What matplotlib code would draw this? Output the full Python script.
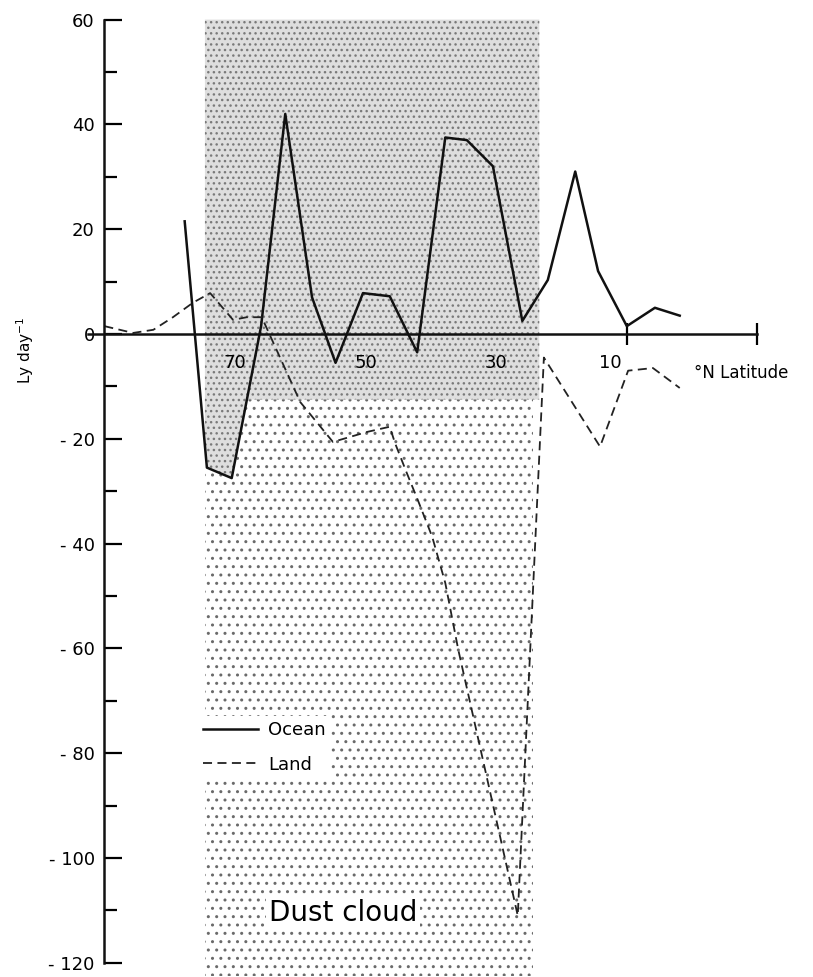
import numpy as np
import matplotlib
matplotlib.use("Agg")
import matplotlib.pyplot as plt

plt.rcParams['font.family'] = ['DejaVu Sans']

# ocean (solid) net radiation, Ly day^-1 vs deg N latitude
ocean_lat = [77.7, 74.3, 70.5, 66.0, 62.3, 58.2, 54.6, 50.4, 46.3, 42.1,
             37.8, 34.5, 30.5, 26.0, 22.1, 17.9, 14.4, 10.0, 5.7, 1.9]
ocean_val = [21.5, -25.5, -27.5, 1.5, 42.0, 7.0, -5.5, 7.8, 7.2, -3.5,
             37.5, 37.0, 32.0, 2.5, 10.3, 31.0, 12.0, 1.5, 5.0, 3.5]

# land (dashed)
land_lat = [90.0, 85.6, 82.5, 79.5, 76.4, 73.8, 70.3, 68.2, 65.9, 60.0,
            55.0, 49.8, 46.3, 45.5, 43.7, 42.0, 39.8, 37.8, 35.8, 26.7,
            22.7, 14.1, 9.8, 6.0, 1.9]
land_val = [1.5, 0.2, 0.8, 3.2, 6.0, 7.8, 2.7, 3.2, 3.2, -13.0,
            -20.6, -18.7, -17.7, -20.8, -26.5, -31.7, -38.7, -47.5, -60.3, -111.0,
            -4.5, -21.5, -7.0, -6.5, -10.3]

yticks = [60, 40, 20, 0, -20, -40, -60, -80, -100, -120]
ytick_labels = ['60', '40', '20', '0', '- 20', '- 40', '- 60', '- 80', '- 100', '- 120']
xticks = [70, 50, 30, 10]
xtick_labels = ['70', '50', '30', '10']

# dust cloud extent
cloud_left = 74.6
cloud_right_top = 23.4
cloud_right_low = 24.3
cloud_top = 60
cloud_split = -12.5
cloud_bottom = -125

fig = plt.figure(figsize=(8.13, 9.77), dpi=100)
# axes placed so 70N sits at x=235px, 0 at y=334px
ax = fig.add_axes([71.7 / 813, (977 - 975.9) / 977, (770.5 - 71.7) / 813, (975.9 - 9.1) / 977])
ax.set_xlim(95, -12)
ax.set_ylim(-122.5, 62)

# lower (sparse) part of the dust cloud
ax.fill([cloud_left, cloud_right_low, cloud_right_low, cloud_left],
        [cloud_split, cloud_split, cloud_bottom, cloud_bottom],
        facecolor='white', edgecolor='#6a6a6a', hatch='..', lw=0, zorder=1)

# upper (dense) part, plus the pocket inside the ocean dip
olat = np.array(ocean_lat)[::-1]
oval = np.array(ocean_val)[::-1]
grid = np.linspace(66.0, cloud_left, 60)
pocket = np.minimum(np.interp(grid, olat, oval), cloud_split)
px = [cloud_left, cloud_right_top, cloud_right_top] + list(grid) + [cloud_left]
py = [cloud_top, cloud_top, cloud_split] + list(pocket) + [cloud_top]
ax.fill(px, py, facecolor='#dedede', edgecolor='#7a7a7a', hatch='...', lw=0, zorder=2)

ax.plot(ocean_lat, ocean_val, color='#111111', lw=1.8, zorder=5, label='Ocean')
ax.plot(land_lat, land_val, color='#222222', lw=1.3, dashes=(5, 3), zorder=5, label='Land')

for s in ['top', 'right']:
    ax.spines[s].set_visible(False)
ax.spines['left'].set_position(('data', 90))
ax.spines['left'].set_bounds(-120, 60)
ax.spines['bottom'].set_position(('data', 0))
ax.spines['bottom'].set_bounds(92.5, -10)
for s in ['left', 'bottom']:
    ax.spines[s].set_linewidth(1.8)
    ax.spines[s].set_color('#111111')
    ax.spines[s].set_zorder(6)

ax.set_yticks(yticks, labels=ytick_labels)
ax.set_yticks(np.arange(-110, 60, 20), minor=True)
ax.tick_params(axis='y', which='major', direction='in', length=13, width=1.6, pad=7, labelsize=13)
ax.tick_params(axis='y', which='minor', direction='in', length=9, width=1.6)

ax.set_xticks(xticks + [-10], labels=[''] * 5)
ax.tick_params(axis='x', which='major', direction='inout', length=16, width=1.6)

for lat, lbl in zip(xticks, xtick_labels):
    dx = -12 if lbl == '10' else 0
    ax.annotate(lbl, xy=(lat, 0), xytext=(dx, -21), textcoords='offset points',
                ha='center', va='center', fontsize=13, zorder=7)

ax.annotate('°N Latitude', xy=(-10, 0), xytext=(-46, -28), textcoords='offset points',
            ha='left', va='center', fontsize=12)

fig.text(25 / 813, 1 - 350 / 977, 'Ly day$^{-1}$', rotation=90, ha='center', va='center', fontsize=11)

leg = ax.legend(loc='upper left', bbox_to_anchor=(198 / 813, 1 - 716 / 977),
                bbox_transform=fig.transFigure, frameon=True, fancybox=False,
                borderaxespad=0, borderpad=0.3, handlelength=3.0, handletextpad=0.6,
                labelspacing=0.9, fontsize=13)
leg.get_frame().set_facecolor('white')
leg.get_frame().set_edgecolor('none')
leg.get_frame().set_alpha(1)
leg.set_zorder(8)

ax.text(53.4, -110.5, 'Dust cloud', fontsize=20, ha='center', va='center', zorder=8,
        bbox=dict(facecolor='white', edgecolor='none', pad=2))

fig.savefig('out.png', dpi=100)
